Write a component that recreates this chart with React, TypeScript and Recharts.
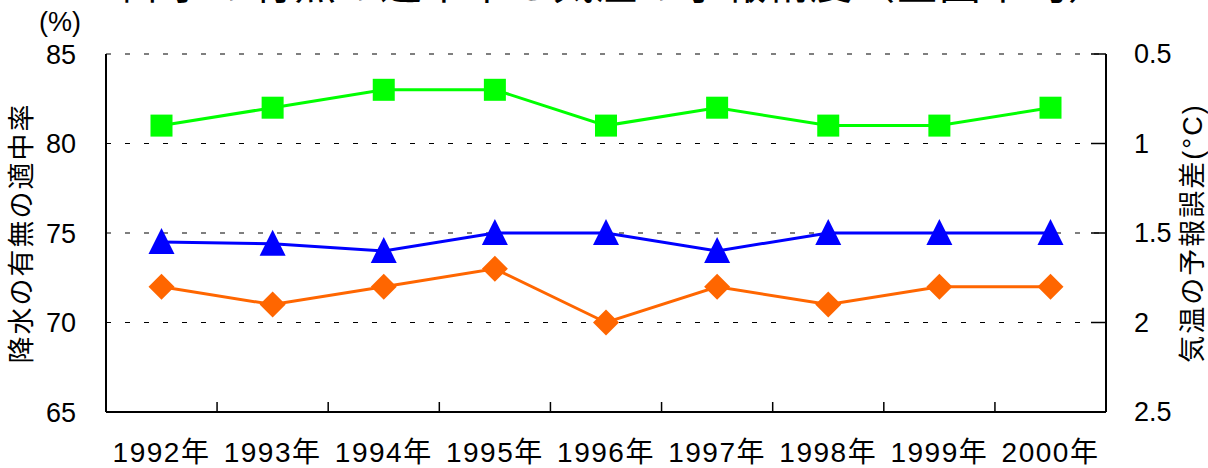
import React from 'react';
import {
  LineChart,
  Line,
  XAxis,
  YAxis,
  CartesianGrid,
} from 'recharts';

// 年
const years = ['1992年', '1993年', '1994年', '1995年', '1996年', '1997年', '1998年', '1999年', '2000年'];
// 緑 (左軸 %)
const greenSeries = [81, 82, 83, 83, 81, 82, 81, 81, 82];
// 青 (右軸 ℃)
const blueSeries = [1.55, 1.56, 1.6, 1.5, 1.5, 1.6, 1.5, 1.5, 1.5];
// 橙 (左軸 %)
const orangeSeries = [72, 71, 72, 73, 70, 72, 71, 72, 72];

const leftTicks = [65, 70, 75, 80, 85];
const rightTicks = [0.5, 1, 1.5, 2, 2.5];

const FONT = "'Liberation Sans', 'Noto Sans CJK JP', sans-serif";
const PAD = 55.5;

const chartData = years.map((year, i) => ({
  year,
  green: greenSeries[i],
  blue: blueSeries[i],
  orange: orangeSeries[i],
}));

const SquareDot = ({ cx, cy }: any) => (
  <rect x={cx - 11} y={cy - 11} width={22} height={22} fill="#00ff00" />
);

const TriangleDot = ({ cx, cy }: any) => (
  <polygon
    points={`${cx},${cy - 14} ${cx - 13},${cy + 12} ${cx + 13},${cy + 12}`}
    fill="#0000ff"
  />
);

const DiamondDot = ({ cx, cy }: any) => (
  <polygon
    points={`${cx},${cy - 13} ${cx + 13},${cy} ${cx},${cy + 13} ${cx - 13},${cy}`}
    fill="#ff6600"
  />
);

// year label, plus the small upward mark between this year and the next
const YearTick = ({ x, y, payload, index, width, visibleTicksCount }: any) => {
  const count = visibleTicksCount || years.length;
  const step = width ? (width - 2 * PAD) / (count - 1) : 0;
  const axisY = y - 27;
  return (
    <g>
      {step > 0 && index < count - 1 && (
        <line
          x1={x + step / 2}
          y1={axisY}
          x2={x + step / 2}
          y2={axisY - 10}
          stroke="#000"
          strokeWidth={1.5}
        />
      )}
      <text
        x={x}
        y={y}
        dy={23}
        fontSize={28}
        fontFamily={FONT}
        letterSpacing={1.5}
        fill="#000"
        textAnchor="middle"
      >
        {payload.value}
      </text>
    </g>
  );
};

// right axis: tick line points inward, label outside
const RightTick = ({ x, y, payload }: any) => (
  <g>
    <line x1={x - 28} y1={y} x2={x - 43} y2={y} stroke="#000" strokeWidth={1.5} />
    <text x={x} y={y} dy={9} fontSize={27} fontFamily={FONT} fill="#000" textAnchor="start">
      {payload.value}
    </text>
  </g>
);

export default function App() {
  return (
    <div
      style={{
        position: 'absolute',
        left: 0,
        top: 0,
        width: 1208,
        height: 468,
        overflow: 'hidden',
        background: '#fff',
        fontFamily: FONT,
      }}
    >
      <div
        style={{
          position: 'absolute',
          left: 122,
          top: -36,
          fontSize: 42,
          lineHeight: '42px',
          letterSpacing: 1,
          whiteSpace: 'nowrap',
          color: '#000',
        }}
      >
        降水の有無の適中率と気温の予報精度（全国平均）
      </div>
      <div style={{ position: 'absolute', left: 39, top: 7, fontSize: 27, lineHeight: '30px' }}>(%)</div>

      <LineChart
        width={1208}
        height={468}
        data={chartData}
        margin={{ top: 54, right: 0, bottom: 0, left: 0 }}
      >
        <CartesianGrid
          xAxisId="cat"
          yAxisId="left"
          vertical={false}
          stroke="#000"
          strokeWidth={1.2}
          strokeDasharray="5 14"
        />
        <XAxis
          dataKey="year"
          xAxisId="cat"
          height={56}
          padding={{ left: PAD, right: PAD }}
          tickLine={false}
          tickSize={0}
          tickMargin={27}
          axisLine={{ stroke: '#000', strokeWidth: 2 }}
          tick={<YearTick />}
          interval={0}
        />
        <YAxis
          yAxisId="left"
          width={106}
          domain={[65, 85]}
          ticks={leftTicks}
          tickLine={false}
          tickSize={0}
          tickMargin={30}
          axisLine={{ stroke: '#000', strokeWidth: 2 }}
          tick={{ fontSize: 27, fill: '#000', fontFamily: FONT }}
          label={{
            value: '降水の有無の適中率',
            angle: -90,
            position: 'insideLeft',
            offset: 21,
            style: { fontSize: 27, fill: '#000', fontFamily: FONT, letterSpacing: 2, textAnchor: 'middle' },
          }}
        />
        <YAxis
          yAxisId="right"
          orientation="right"
          width={102}
          domain={[0.5, 2.5]}
          reversed
          ticks={rightTicks}
          tickLine={false}
          tickSize={0}
          tickMargin={28}
          axisLine={{ stroke: '#000', strokeWidth: 2 }}
          tick={<RightTick />}
          label={{
            value: '気温の予報誤差(°C)',
            angle: -90,
            position: 'insideRight',
            offset: 16,
            style: { fontSize: 27, fill: '#000', fontFamily: FONT, letterSpacing: 2, textAnchor: 'middle' },
          }}
        />
        <Line
          xAxisId="cat"
          yAxisId="left"
          dataKey="green"
          stroke="#00ff00"
          strokeWidth={3}
          dot={<SquareDot />}
          activeDot={false}
          isAnimationActive={false}
        />
        <Line
          xAxisId="cat"
          yAxisId="right"
          dataKey="blue"
          stroke="#0000ff"
          strokeWidth={3}
          dot={<TriangleDot />}
          activeDot={false}
          isAnimationActive={false}
        />
        <Line
          xAxisId="cat"
          yAxisId="left"
          dataKey="orange"
          stroke="#ff6600"
          strokeWidth={3}
          dot={<DiamondDot />}
          activeDot={false}
          isAnimationActive={false}
        />
      </LineChart>
    </div>
  );
}
